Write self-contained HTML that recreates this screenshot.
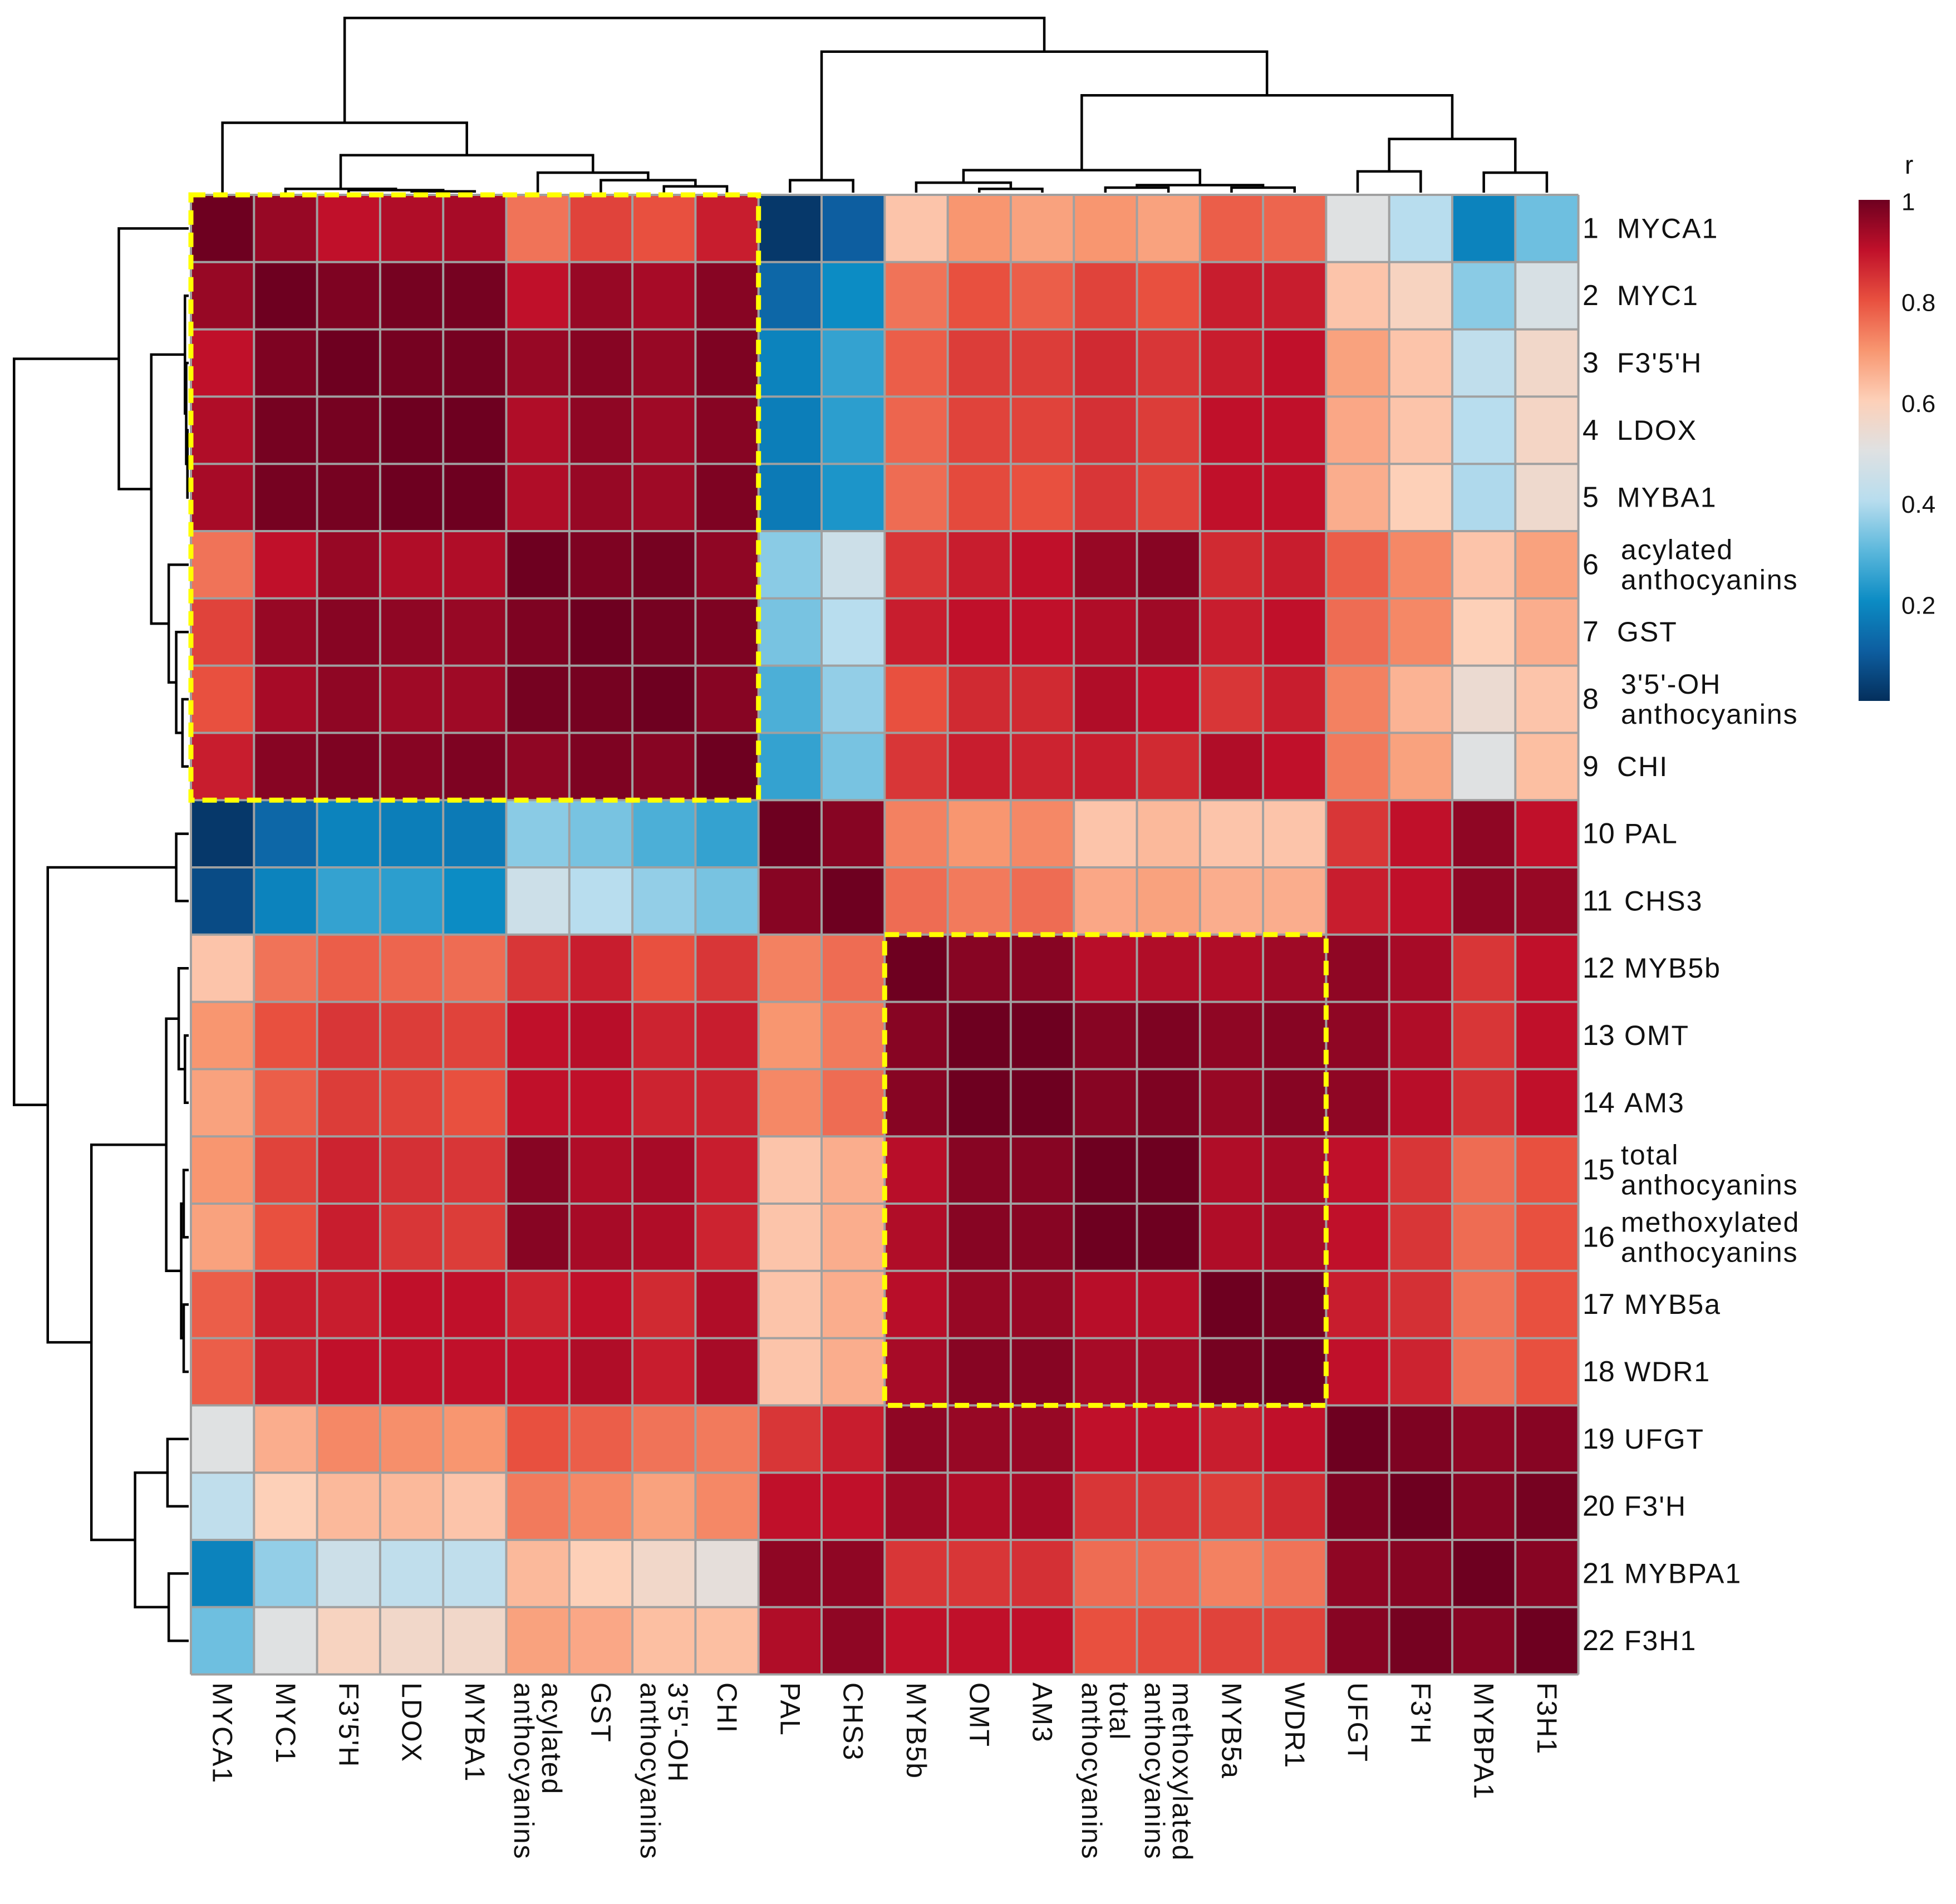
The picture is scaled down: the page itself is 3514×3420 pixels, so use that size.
<!DOCTYPE html>
<html><head><meta charset="utf-8"><style>
html,body{margin:0;padding:0;background:#fff}
svg{display:block}
text{font-family:"Liberation Sans",sans-serif;fill:#111}
</style></head><body>
<svg id="chart" width="3514" height="3420" viewBox="0 0 3514 3420" xmlns="http://www.w3.org/2000/svg">
<defs>
<linearGradient id="cbg" x1="0" y1="1" x2="0" y2="0">
<stop offset="0" stop-color="#042f5c"/><stop offset="0.1" stop-color="#0d5ea0"/><stop offset="0.2" stop-color="#0c8cc4"/><stop offset="0.3" stop-color="#5cb8dc"/><stop offset="0.4" stop-color="#b8ddee"/><stop offset="0.5" stop-color="#dfe1e2"/><stop offset="0.6" stop-color="#fdd0b8"/><stop offset="0.7" stop-color="#f89670"/><stop offset="0.8" stop-color="#e8503f"/><stop offset="0.9" stop-color="#c0102a"/><stop offset="1" stop-color="#6e0020"/>
</linearGradient>
</defs>
<g id="cells"></g><g id="grid"></g><g id="dendro"></g><g id="labels"></g><g id="boxes"></g><g id="legend"></g>
</svg>
<script>
const labels = ["MYCA1","MYC1","F3'5'H","LDOX","MYBA1","acylated|anthocyanins","GST","3'5'-OH|anthocyanins","CHI","PAL","CHS3","MYB5b","OMT","AM3","total|anthocyanins","methoxylated|anthocyanins","MYB5a","WDR1","UFGT","F3'H","MYBPA1","F3H1"];
const colLabels = ["MYCA1","MYC1","F3'5'H","LDOX","MYBA1","acylated|anthocyanins","GST","3'5'-OH|anthocyanins","CHI","PAL","CHS3","MYB5b","OMT","AM3","total|anthocyanins","methoxylated|anthocyanins","MYB5a","WDR1","UFGT","F3'H","MYBPA1","F3H1"];
const values = [
[1,.95,.9,.92,.93,.75,.82,.8,.88,.02,.1,.62,.7,.68,.7,.68,.78,.77,.5,.4,.18,.32],
[.95,1,.98,.99,.99,.9,.95,.93,.97,.12,.2,.75,.8,.78,.82,.8,.88,.88,.62,.58,.35,.48],
[.9,.98,1,.99,.99,.95,.97,.95,.98,.18,.25,.78,.83,.83,.86,.84,.88,.9,.68,.62,.42,.56],
[.92,.99,.99,1,1,.92,.96,.94,.97,.17,.24,.77,.82,.82,.85,.83,.9,.9,.67,.62,.4,.57],
[.93,.99,.99,1,1,.92,.95,.94,.98,.16,.22,.76,.81,.8,.84,.82,.9,.9,.66,.6,.39,.55],
[.75,.9,.95,.92,.92,1,.98,.99,.96,.35,.45,.84,.88,.9,.95,.97,.86,.88,.78,.72,.62,.68],
[.82,.95,.97,.96,.95,.98,1,.99,.98,.33,.4,.88,.9,.9,.92,.94,.88,.9,.76,.72,.6,.66],
[.8,.93,.96,.94,.94,.99,.99,1,.97,.28,.36,.8,.86,.86,.92,.9,.84,.88,.73,.65,.54,.62],
[.88,.97,.98,.97,.98,.96,.98,.97,1,.25,.33,.84,.88,.87,.88,.86,.92,.9,.74,.68,.5,.63],
[.02,.12,.18,.17,.16,.35,.33,.28,.25,1,.97,.73,.7,.72,.62,.64,.62,.62,.84,.9,.96,.9],
[.06,.18,.25,.24,.2,.45,.4,.36,.33,.97,1,.76,.74,.76,.67,.68,.66,.66,.88,.9,.96,.95],
[.62,.75,.78,.77,.76,.84,.88,.8,.84,.73,.76,1,.97,.97,.91,.92,.92,.94,.96,.93,.84,.9],
[.7,.8,.84,.83,.82,.9,.91,.87,.88,.7,.74,.97,1,1,.97,.98,.96,.97,.96,.92,.84,.9],
[.68,.78,.83,.82,.8,.9,.9,.87,.87,.72,.76,.97,1,1,.97,.98,.95,.97,.96,.91,.85,.9],
[.7,.82,.87,.85,.84,.97,.92,.93,.88,.62,.66,.91,.97,.97,1,1,.92,.93,.9,.84,.76,.8],
[.68,.8,.88,.84,.83,.97,.93,.92,.87,.62,.66,.92,.97,.97,1,1,.92,.93,.9,.84,.76,.8],
[.78,.88,.88,.9,.9,.87,.9,.86,.92,.62,.66,.91,.95,.95,.91,.91,1,.99,.88,.85,.75,.8],
[.78,.88,.9,.9,.9,.9,.92,.88,.93,.62,.66,.93,.97,.97,.93,.93,.99,1,.9,.87,.75,.8],
[.5,.66,.72,.71,.7,.8,.78,.75,.74,.84,.88,.96,.95,.95,.9,.9,.88,.9,1,.98,.96,.97],
[.42,.6,.64,.64,.62,.74,.72,.68,.72,.9,.9,.94,.92,.93,.84,.84,.83,.86,.98,1,.97,.99],
[.18,.36,.45,.42,.42,.64,.6,.56,.52,.96,.96,.84,.84,.85,.76,.76,.73,.75,.96,.97,1,.97],
[.32,.5,.58,.56,.56,.68,.67,.63,.63,.92,.96,.9,.9,.9,.8,.81,.82,.82,.97,.99,.97,1]
];
const colorTicks = [1,0.8,0.6,0.4,0.2];
// dendrogram: [height, left, right]; leaves are indices
const tree = [140,[56,0,[30,[3,1,[2,2,[1,3,4]]],[16,5,[10,6,[5,7,8]]]]],[113,[10,9,10],[78,[18,[8,11,[3,12,13]],[6,[4,14,15],[4,16,17]]],[43,[17,18,19],[16,20,21]]]]];

const NS="http://www.w3.org/2000/svg";
const X0=343,Y0=350,CW=113.3,CH=120.8,N=labels.length,HS=2.241;
const xs=i=>X0+i*CW, ys=i=>Y0+i*CH;
const stops=[[0,[4,47,92]],[.1,[13,94,160]],[.2,[12,140,196]],[.3,[92,184,220]],[.4,[184,221,238]],[.5,[223,225,226]],[.6,[253,208,184]],[.7,[248,150,112]],[.8,[232,80,63]],[.9,[192,16,42]],[1,[110,0,32]]];
function color(v){v=Math.max(0,Math.min(1,v));for(let k=1;k<stops.length;k++){if(v<=stops[k][0]){const a=stops[k-1],b=stops[k],t=(v-a[0])/(b[0]-a[0]);return`rgb(${a[1].map((c,j)=>Math.round(c+(b[1][j]-c)*t)).join(',')})`;}}return'rgb(110,0,32)';}
function mk(tag,attrs,parent){const e=document.createElementNS(NS,tag);for(const k in attrs)e.setAttribute(k,attrs[k]);parent.appendChild(e);return e;}
const cells=document.getElementById('cells');
for(let r=0;r<N;r++)for(let c=0;c<N;c++){
 const e=mk('rect',{x:xs(c),y:ys(r),width:CW+0.5,height:CH+0.5,fill:color(values[r][c])},cells);
 
 
}
const grid=document.getElementById('grid');
for(let i=0;i<=N;i++){
 mk('line',{x1:xs(i),y1:Y0,x2:xs(i),y2:ys(N),stroke:'#a0a0a0','stroke-width':4},grid);
 mk('line',{x1:X0,y1:ys(i),x2:xs(N),y2:ys(i),stroke:'#a0a0a0','stroke-width':4},grid);
}
const dg=document.getElementById('dendro');
function draw(node,pos,base,dir){
 if(typeof node==='number')return[pos(node),0];
 const a=draw(node[1],pos,base,dir),b=draw(node[2],pos,base,dir),h=node[0]*HS;
 let d;
 if(dir==='top')d=`M${a[0]},${base-a[1]}V${base-h}H${b[0]}V${base-b[1]}`;
 else d=`M${base-a[1]},${a[0]}H${base-h}V${b[0]}H${base-b[1]}`;
 const p=mk('path',{d:d,fill:'none',stroke:'#000','stroke-width':4.5},dg);
 
 
 return[(a[0]+b[0])/2,h];
}
draw(tree,i=>xs(i)+CW/2,Y0-4,'top');
draw(tree,i=>ys(i)+CH/2,X0-4,'left');
const lg=document.getElementById('labels');
labels.forEach((lab,i)=>{
 const cy=ys(i)+CH/2,parts=lab.split('|');
 const n=mk('text',{x:2843,y:cy,'font-size':52,'dominant-baseline':'central'},lg);n.textContent=String(i+1);
 
 
 const t=mk('text',{x:parts.length>1?2912:(i>=9?2918:2905),y:cy,'font-size':50,'dominant-baseline':'central','letter-spacing':2},lg);
 
 
 parts.forEach((p,k)=>{const s=mk('tspan',{x:t.getAttribute('x'),dy:parts.length>1?(k===0?-27:54):0},t);s.textContent=p;});
});
colLabels.forEach((lab,i)=>{
 const cx=xs(i)+CW/2,parts=lab.split('|');
 const t=mk('text',{transform:`translate(${cx},3022) rotate(90)`,'font-size':50,'dominant-baseline':'central','letter-spacing':2},lg);
 
 
 parts.forEach((p,k)=>{const s=mk('tspan',{x:0,dy:parts.length>1?(k===0?-25:50):0},t);s.textContent=p;});
});
const bx=document.getElementById('boxes');
[[0,8],[11,17]].forEach(([a,b],k)=>{
 const r=mk('rect',{x:xs(a),y:ys(a),width:xs(b+1)-xs(a),height:ys(b+1)-ys(a),fill:'none',stroke:'#ffff00','stroke-width':9,'stroke-dasharray':'26 14'},bx);
 
 
});
const leg=document.getElementById('legend');
const CB_TOP=363,CB_SPAN=906;
const cb=mk('rect',{x:3339,y:359,width:56,height:900,fill:'url(#cbg)'},leg);


const rt=mk('text',{x:3422,y:312,'font-size':46},leg);rt.textContent='r';


colorTicks.forEach(v=>{
 const t=mk('text',{x:3416,y:CB_TOP+(1-v)*CB_SPAN,'font-size':44,'dominant-baseline':'central'},leg);
 t.textContent=String(v);
 
 
});
</script>
</body></html>
